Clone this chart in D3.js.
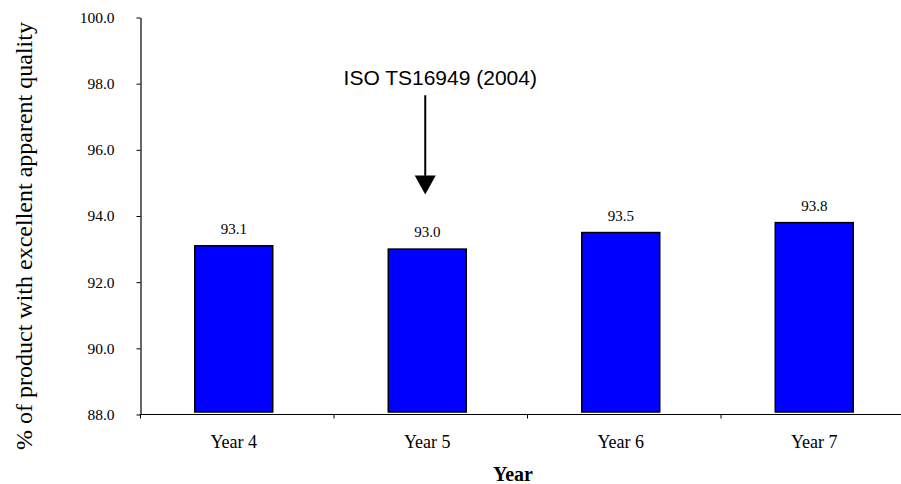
<!DOCTYPE html>
<html>
<head>
<meta charset="utf-8">
<script src="https://cdn.jsdelivr.net/npm/d3@7"></script>
<style>
  html, body { margin: 0; padding: 0; background: #fff; }
  svg { display: block; }
</style>
</head>
<body>
<svg id="chart" width="901" height="484"></svg>
<script>
// ---- data ----
const categories = ["Year 4", "Year 5", "Year 6", "Year 7"];
const values = [93.1, 93.0, 93.5, 93.8];
const yTicks = [88.0, 90.0, 92.0, 94.0, 96.0, 98.0, 100.0];
const yTitle = "% of product with excellent apparent quality";
const xTitle = "Year";
const annotationText = "ISO TS16949 (2004)";
const annotationCategory = "Year 5";
const annotationLevels = [97.95, 97.65, 94.65]; // text baseline, arrow start, arrow tip (data units)

// ---- layout ----
const svg = d3.select("#chart");
const serif = "'Liberation Serif', 'Times New Roman', Times, serif";
const sans = "'Liberation Sans', Arial, Helvetica, sans-serif";

const plotLeft = 140.5, step = 193.5;
const x = d3.scaleBand().domain(categories)
  .range([plotLeft, plotLeft + step * categories.length])
  .paddingInner(0).paddingOuter(0);
const xBar = d3.scaleBand().domain(categories)
  .range([plotLeft - 3.5, plotLeft - 3.5 + step * categories.length])
  .paddingInner(0.597).paddingOuter(0.2985);
const y = d3.scaleLinear().domain([88, 100]).range([414.5, 17.5]);

// bars
svg.append("g").selectAll("rect").data(values).join("rect")
  .attr("x", (d, i) => xBar(categories[i]))
  .attr("width", xBar.bandwidth())
  .attr("y", d => y(d))
  .attr("height", d => y(88) - 2.5 - y(d))
  .attr("fill", "#0000ff")
  .attr("stroke", "#000")
  .attr("stroke-width", 1.5);

// value labels
svg.append("g").selectAll("text").data(values).join("text")
  .attr("x", (d, i) => xBar(categories[i]) + xBar.bandwidth() / 2)
  .attr("y", d => y(d) - 12)
  .attr("text-anchor", "middle")
  .attr("font-family", serif)
  .attr("font-size", 15)
  .attr("fill", "#000")
  .text(d => d.toFixed(1));

// y axis
const yAxis = d3.axisLeft(y).tickValues(yTicks).tickFormat(d3.format(".1f"))
  .tickSizeInner(4).tickSizeOuter(0).tickPadding(22);
const gy = svg.append("g").attr("transform", `translate(${plotLeft},0)`).call(yAxis);
gy.select(".domain").attr("stroke", "#000").attr("stroke-width", 1.2);
gy.selectAll(".tick line").attr("stroke", "#000");
gy.selectAll(".tick text").attr("font-family", serif).attr("font-size", 15.5).attr("fill", "#000");

// x axis (ticks between categories)
const xAxisBoundaries = categories.map(c => x(c)).concat([x(categories[categories.length - 1]) + x.bandwidth()]);
const gx = svg.append("g");
gx.append("line")
  .attr("x1", plotLeft - 1).attr("x2", 901)
  .attr("y1", y(88)).attr("y2", y(88))
  .attr("stroke", "#000").attr("stroke-width", 1.2);
gx.selectAll("line.tk").data(xAxisBoundaries).join("line")
  .attr("class", "tk")
  .attr("x1", d => d).attr("x2", d => d)
  .attr("y1", y(88)).attr("y2", y(88) + 4)
  .attr("stroke", "#000");
gx.selectAll("text").data(categories).join("text")
  .attr("x", c => xBar(c) + xBar.bandwidth() / 2)
  .attr("y", 448)
  .attr("text-anchor", "middle")
  .attr("font-family", serif)
  .attr("font-size", 18)
  .attr("fill", "#000")
  .text(c => c);

// axis titles
svg.append("text")
  .attr("x", 513).attr("y", 481)
  .attr("text-anchor", "middle")
  .attr("font-family", serif)
  .attr("font-size", 20)
  .attr("font-weight", "bold")
  .attr("fill", "#000")
  .text(xTitle);

svg.append("text")
  .attr("transform", "translate(32,236) rotate(-90)")
  .attr("text-anchor", "middle")
  .attr("font-family", serif)
  .attr("font-size", 24)
  .attr("fill", "#000")
  .text(yTitle);

// annotation
const ax = xBar(annotationCategory) + xBar.bandwidth() / 2 - 2;
svg.append("text")
  .attr("x", ax + 15).attr("y", y(annotationLevels[0]))
  .attr("text-anchor", "middle")
  .attr("font-family", sans)
  .attr("font-size", 21)
  .attr("fill", "#000")
  .text(annotationText);
const tipY = y(annotationLevels[2]);
svg.append("line")
  .attr("x1", ax).attr("x2", ax)
  .attr("y1", y(annotationLevels[1])).attr("y2", tipY - 18)
  .attr("stroke", "#000").attr("stroke-width", 2);
svg.append("path")
  .attr("d", `M${ax - 10.5},${tipY - 19} L${ax + 10.5},${tipY - 19} L${ax},${tipY} Z`)
  .attr("fill", "#000");
</script>
</body>
</html>
